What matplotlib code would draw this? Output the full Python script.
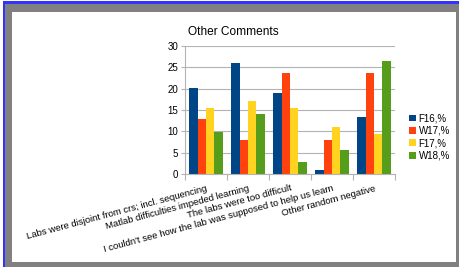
import matplotlib.pyplot as plt
from matplotlib.patches import Rectangle
import numpy as np

plt.rcParams["font.family"] = ["Liberation Sans", "DejaVu Sans"]

categories = [
    "Labs were disjoint from crs; incl. sequencing",
    "Matlab difficulties impeded learning",
    "The labs were too difficult",
    "I couldn't see how the lab was supposed to help us learn",
    "Other random negative",
]
series_names = ["F16,%", "W17,%", "F17,%", "W18,%"]
f16 = [20.1, 25.9, 19.1, 1.0, 13.4]
w17 = [13.0, 7.9, 23.6, 7.9, 23.6]
f17 = [15.5, 17.1, 15.5, 10.9, 9.4]
w18 = [9.8, 14.0, 2.8, 5.7, 26.6]
colors = ["#004586", "#ff420e", "#ffd320", "#579d1c"]

W, H = 459, 267
fig = plt.figure(figsize=(W / 100, H / 100), dpi=100)
fig.patch.set_facecolor("#808080")


def px_rect(x0, y0, x1, y1, color, z):
    # rectangle in pixel coords measured from top-left
    fig.patches.append(Rectangle((x0 / W, 1 - y1 / H), (x1 - x0) / W, (y1 - y0) / H,
                                 transform=fig.transFigure, facecolor=color,
                                 edgecolor="none", zorder=z))


# frame: white outside corner, blue strips top/left, gray border, white inner area
px_rect(0, 0, W, 1, "white", -3)
px_rect(0, 0, 3, H, "white", -3)
px_rect(3, 1, W, 4, "#3333ff", -2)
px_rect(3, 1, 5, H, "#3333ff", -2)
px_rect(12, 12, 456, 262, "white", -1)

left, right, top, bottom = 185, 395, 46, 174
ax = fig.add_axes([left / W, 1 - bottom / H, (right - left) / W, (bottom - top) / H])

x = np.arange(len(categories))
width = 0.2
for j, (vals, name) in enumerate(zip([f16, w17, f17, w18], series_names)):
    ax.bar(x + (j - 1.5) * width, vals, width=width, color=colors[j], label=name, zorder=2)

ax.set_xlim(-0.5, len(categories) - 0.5)
ax.set_ylim(0, 30)
ax.set_yticks(range(0, 31, 5))
ax.yaxis.grid(True, color="#b3b3b3", linewidth=0.8, zorder=0)
ax.set_xticks(np.arange(-0.5, len(categories), 1.0))
ax.set_xticklabels([])
ax.tick_params(axis="x", length=4, color="#b3b3b3", width=0.8)
ax.tick_params(axis="y", length=3, color="#b3b3b3", width=0.8, labelsize=7, pad=2)
for s in ["top", "right"]:
    ax.spines[s].set_visible(False)
for s in ["left", "bottom"]:
    ax.spines[s].set_color("#b3b3b3")
    ax.spines[s].set_linewidth(0.8)

for i, lab in enumerate(categories):
    ax.annotate(lab, xy=(i, 0), xycoords=("data", "axes fraction"),
                xytext=(0, -7), textcoords="offset points",
                rotation=15, rotation_mode="anchor", ha="right", va="top",
                fontsize=6.8)

fig.text(188 / W, 1 - 32 / H, "Other Comments", fontsize=8.6, ha="left", va="center")

fig.legend(loc="center left", bbox_to_anchor=(405 / W, 1 - 137 / H), frameon=False,
           fontsize=7, handlelength=0.7, handleheight=0.7, handletextpad=0.3,
           labelspacing=0.25, borderaxespad=0)

fig.savefig("out.png", dpi=100, facecolor=fig.get_facecolor())
